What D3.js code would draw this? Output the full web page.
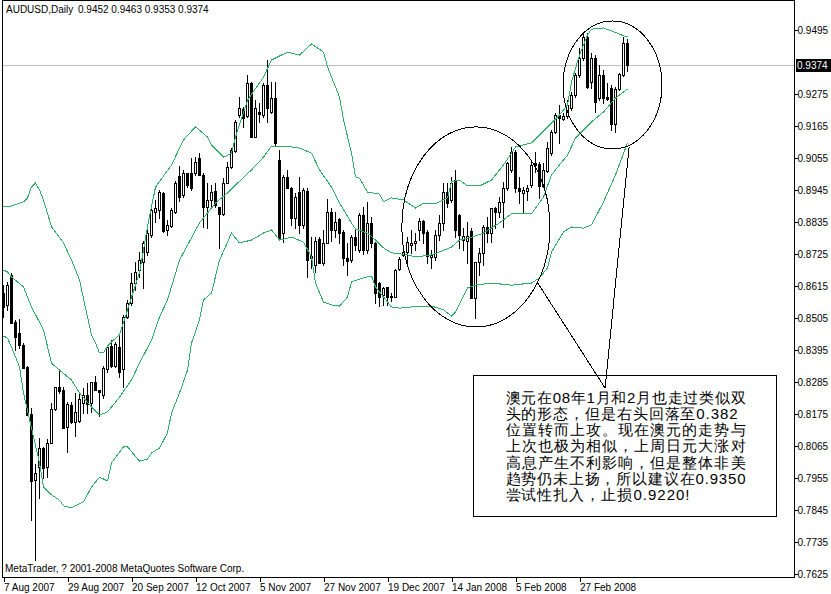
<!DOCTYPE html>
<html>
<head>
<meta charset="utf-8">
<script src="https://cdn.jsdelivr.net/npm/d3@7"></script>
<style>
html,body{margin:0;padding:0;background:#fff;}
svg{display:block;}
text{font-family:"Liberation Sans",Arial,sans-serif;}
</style>
</head>
<body>
<svg id="chart" width="831" height="594"></svg>
<script>
// ---------------- DATA ----------------
const symbolTitle = "AUDUSD,Daily";
const lastOHLC = [0.9452, 0.9463, 0.9353, 0.9374];
const bidPrice = 0.9374;
const dateTickIdx = [0,16,32,48,64,80,96,112,128,144];
const dateTickLabels = ["7 Aug 2007","29 Aug 2007","20 Sep 2007","12 Oct 2007","5 Nov 2007","27 Nov 2007","19 Dec 2007","14 Jan 2008","5 Feb 2008","27 Feb 2008"];
const priceTicks = [0.9495,0.9275,0.9165,0.9055,0.8945,0.8835,0.8725,0.8615,0.8505,0.8395,0.8285,0.8175,0.8065,0.7955,0.7845,0.7735,0.7625];

const opens = [
0.8591,0.8550,0.8653,0.8491,0.8453,0.8412,0.8337,0.8175,0.7948,0.7993,
0.8058,0.7993,0.8075,0.8192,0.8268,0.8258,0.8130,0.8206,0.8148,0.8151,
0.8213,0.8240,0.8213,0.8285,0.8258,0.8240,0.8330,0.8409,0.8340,0.8405,
0.8330,0.8508,0.8557,0.8625,0.8670,0.8698,0.8732,0.8790,0.8869,0.8876,
0.8935,0.8808,0.8821,0.8869,0.8993,0.8928,0.9003,0.9003,0.9003,0.9055,
0.8997,0.8887,0.8911,0.8942,0.8887,0.8863,0.8969,0.9024,0.9079,0.9203,
0.9224,0.9199,0.9313,0.9127,0.9213,0.9203,0.9306,0.9213,0.9261,0.9048,
0.8797,0.8990,0.8952,0.8849,0.8938,0.8825,0.8942,0.8711,0.8687,0.8777,
0.8694,0.8763,0.8869,0.8808,0.8845,0.8801,0.8711,0.8704,0.8783,0.8739,
0.8859,0.8739,0.8832,0.8763,0.8625,0.8584,0.8612,0.8577,0.8577,0.8674,
0.8722,0.8732,0.8756,0.8763,0.8808,0.8838,0.8801,0.8715,0.8715,0.8790,
0.8832,0.8938,0.8911,0.8979,0.8859,0.8773,0.8770,0.8804,0.8574,0.8698,
0.8729,0.8818,0.8797,0.8883,0.8869,0.8904,0.8952,0.9014,0.9076,0.8952,
0.8935,0.8942,0.8962,0.9038,0.9034,0.8959,0.9010,0.9072,0.9144,0.9203,
0.9189,0.9199,0.9227,0.9272,0.9340,0.9399,0.9471,0.9316,0.9399,0.9261,
0.9340,0.9265,0.9296,0.9172,0.9292,0.9340,0.9452];
const highs = [
0.8618,0.8629,0.8660,0.8498,0.8502,0.8419,0.8340,0.8196,0.8003,0.8093,
0.8062,0.8089,0.8213,0.8268,0.8326,0.8268,0.8216,0.8216,0.8247,0.8247,
0.8264,0.8282,0.8285,0.8306,0.8258,0.8340,0.8412,0.8429,0.8423,0.8450,
0.8515,0.8567,0.8660,0.8698,0.8732,0.8770,0.8808,0.8887,0.8911,0.8945,
0.8938,0.8842,0.8883,0.8976,0.9028,0.9014,0.9003,0.9055,0.9058,0.9072,
0.9003,0.8969,0.8962,0.8969,0.8887,0.8986,0.9041,0.9089,0.9186,0.9265,
0.9230,0.9340,0.9316,0.9254,0.9244,0.9313,0.9392,0.9316,0.9316,0.9083,
0.8997,0.9014,0.8955,0.8935,0.8990,0.8952,0.8952,0.8783,0.8783,0.8783,
0.8808,0.8914,0.8883,0.8869,0.8849,0.8808,0.8763,0.8790,0.8808,0.8866,
0.8887,0.8904,0.8852,0.8766,0.8629,0.8612,0.8612,0.8591,0.8674,0.8715,
0.8746,0.8783,0.8808,0.8797,0.8849,0.8842,0.8808,0.8739,0.8808,0.8859,
0.8969,0.8969,0.8990,0.9014,0.8863,0.8814,0.8835,0.8814,0.8698,0.8746,
0.8825,0.8852,0.8883,0.8887,0.8921,0.8973,0.9041,0.9093,0.9083,0.8990,
0.8955,0.8962,0.9048,0.9076,0.9041,0.9038,0.9110,0.9151,0.9210,0.9237,
0.9210,0.9254,0.9282,0.9347,0.9433,0.9488,0.9485,0.9416,0.9409,0.9375,
0.9358,0.9313,0.9306,0.9299,0.9347,0.9471,0.9463];
const lows = [
0.8508,0.8533,0.8488,0.8395,0.8402,0.8333,0.8172,0.7811,0.7673,0.7886,
0.7955,0.7958,0.8075,0.8189,0.8247,0.8127,0.8044,0.8144,0.8099,0.8148,
0.8178,0.8178,0.8182,0.8258,0.8168,0.8230,0.8319,0.8337,0.8337,0.8302,
0.8268,0.8505,0.8550,0.8601,0.8646,0.8608,0.8722,0.8783,0.8835,0.8849,
0.8801,0.8790,0.8818,0.8866,0.8907,0.8921,0.8955,0.8945,0.8997,0.8997,
0.8818,0.8814,0.8883,0.8887,0.8746,0.8859,0.8969,0.9021,0.9076,0.9196,
0.9162,0.9196,0.9127,0.9127,0.9179,0.9196,0.9179,0.9210,0.9100,0.8773,
0.8766,0.8952,0.8825,0.8814,0.8797,0.8814,0.8646,0.8677,0.8663,0.8694,
0.8687,0.8763,0.8770,0.8783,0.8763,0.8687,0.8653,0.8698,0.8739,0.8732,
0.8725,0.8729,0.8749,0.8557,0.8546,0.8550,0.8550,0.8563,0.8577,0.8670,
0.8718,0.8694,0.8729,0.8739,0.8773,0.8763,0.8694,0.8677,0.8704,0.8773,
0.8808,0.8887,0.8904,0.8783,0.8746,0.8739,0.8694,0.8574,0.8505,0.8653,
0.8687,0.8766,0.8766,0.8814,0.8852,0.8818,0.8945,0.9007,0.8938,0.8900,
0.8869,0.8911,0.8955,0.9007,0.8918,0.8955,0.9007,0.9065,0.9141,0.9107,
0.9186,0.9193,0.9220,0.9265,0.9333,0.9392,0.9296,0.9296,0.9213,0.9254,
0.9244,0.9254,0.9151,0.9144,0.9289,0.9337,0.9353];
const closes = [
0.8543,0.8618,0.8488,0.8440,0.8412,0.8333,0.8172,0.7945,0.7972,0.8058,
0.7989,0.8075,0.8192,0.8268,0.8254,0.8127,0.8209,0.8148,0.8182,0.8227,
0.8240,0.8209,0.8285,0.8258,0.8251,0.8333,0.8405,0.8340,0.8416,0.8319,
0.8508,0.8557,0.8625,0.8663,0.8704,0.8763,0.8797,0.8876,0.8883,0.8938,
0.8804,0.8825,0.8876,0.8969,0.8921,0.9003,0.8962,0.8952,0.9041,0.8997,
0.8887,0.8911,0.8938,0.8893,0.8863,0.8969,0.9024,0.9083,0.9179,0.9227,
0.9193,0.9313,0.9127,0.9227,0.9206,0.9306,0.9227,0.9261,0.9107,0.8780,
0.8990,0.8952,0.8849,0.8921,0.8825,0.8945,0.8704,0.8718,0.8770,0.8694,
0.8763,0.8869,0.8808,0.8835,0.8797,0.8711,0.8701,0.8783,0.8756,0.8859,
0.8739,0.8832,0.8763,0.8591,0.8577,0.8608,0.8577,0.8581,0.8670,0.8708,
0.8732,0.8766,0.8763,0.8770,0.8838,0.8797,0.8718,0.8722,0.8790,0.8832,
0.8938,0.8900,0.8969,0.8808,0.8790,0.8787,0.8787,0.8574,0.8698,0.8729,
0.8818,0.8797,0.8883,0.8869,0.8904,0.8952,0.9038,0.9076,0.8952,0.8942,
0.8945,0.8952,0.9031,0.9031,0.8959,0.9014,0.9089,0.9144,0.9203,0.9193,
0.9199,0.9237,0.9272,0.9340,0.9399,0.9471,0.9299,0.9399,0.9248,0.9340,
0.9261,0.9258,0.9172,0.9292,0.9344,0.9450,0.9374];

// Bollinger bands: [bar index, price]
const bbUpper = [[0,.8887],[2,.8890],[4,.8900],[5,.8904],[6,.8918],[7,.8955],[8,.8969],[9,.8945],[10,.8911],[12,.8818],[15,.8763],[17,.8704],[19,.8636],[21,.8508],[22,.8447],[23,.8419],[24,.8385],[25,.8385],[26,.8409],[27,.8423],[29,.8447],[30,.8488],[31,.8533],[32,.8577],[34,.8660],[36,.8818],[38,.8955],[42,.9031],[45,.9117],[48,.9162],[51,.9127],[52,.9100],[55,.9058],[57,.9072],[58,.9127],[61,.9254],[65,.9333],[67,.9392],[71,.9419],[74,.9409],[77,.9447],[80,.9419],[81,.9368],[82,.9333],[84,.9265],[85,.9186],[87,.9072],[88,.8990],[89,.8986],[91,.8938],[94,.8931],[95,.8904],[97,.8918],[100,.8911],[103,.8883],[105,.8900],[108,.8897],[111,.8918],[112,.8973],[114,.8979],[116,.8959],[119,.8959],[122,.8979],[125,.9031],[128,.9093],[132,.9107],[134,.9134],[137,.9175],[139,.9203],[141,.9237],[142,.9316],[144,.9409],[146,.9478],[147,.9498],[150,.9502],[152,.9492],[155,.9475],[156,.9471]];
const bbMiddle = [[0,.8670],[1,.8663],[2,.8646],[5,.8612],[7,.8543],[10,.8464],[12,.8350],[14,.8326],[17,.8292],[19,.8247],[22,.8199],[24,.8172],[26,.8182],[29,.8233],[32,.8292],[34,.8350],[37,.8429],[39,.8508],[41,.8567],[44,.8704],[49,.8832],[53,.8900],[56,.8935],[58,.8962],[62,.9014],[65,.9058],[67,.9096],[70,.9093],[72,.9093],[74,.9089],[77,.9072],[79,.9014],[82,.8955],[84,.8900],[87,.8832],[88,.8811],[91,.8797],[93,.8773],[95,.8746],[97,.8729],[101,.8722],[103,.8715],[107,.8722],[109,.8732],[112,.8749],[114,.8773],[117,.8783],[120,.8797],[124,.8832],[127,.8863],[132,.8863],[135,.8921],[137,.8997],[141,.9065],[143,.9124],[147,.9179],[150,.9213],[153,.9261],[156,.9292]];
const bbLower = [[0,.8443],[1,.8436],[2,.8405],[4,.8337],[5,.8247],[7,.8127],[9,.8007],[10,.7924],[12,.7897],[14,.7879],[15,.7859],[17,.7852],[20,.7873],[22,.7924],[24,.7958],[26,.7945],[27,.8007],[30,.8062],[31,.8062],[34,.8013],[36,.8020],[37,.8041],[39,.8058],[41,.8110],[42,.8178],[44,.8247],[46,.8326],[47,.8419],[49,.8498],[50,.8567],[52,.8591],[54,.8704],[57,.8797],[59,.8763],[62,.8773],[65,.8797],[67,.8808],[69,.8773],[72,.8783],[75,.8766],[77,.8715],[78,.8625],[80,.8560],[82,.8550],[84,.8546],[86,.8577],[87,.8629],[90,.8643],[92,.8649],[93,.8612],[95,.8577],[97,.8543],[99,.8539],[102,.8543],[107,.8546],[110,.8533],[112,.8512],[113,.8526],[116,.8608],[118,.8618],[122,.8625],[127,.8618],[132,.8625],[134,.8643],[136,.8677],[137,.8732],[140,.8801],[142,.8818],[145,.8814],[147,.8825],[150,.8904],[153,.8997],[156,.9107]];

// hand-drawn annotation, placed in data space [bar index, price]
const ellipse1 = {i0: 99.6, i1: 136.6, p0: 0.9162, p1: 0.8474};
const ellipse2 = {i0: 139.9, i1: 164.6, p0: 0.9526, p1: 0.9086};
const pointerTip = [150.4, 0.8264];
const pointerEnds = [[133.4, 0.8629], [156.4, 0.9093]];
const noteBox = {i0: 117.4, i1: 193.1, p0: 0.8309, p1: 0.7824};
const noteLines = [
  "澳元在08年1月和2月也走过类似双",
  "头的形态，但是右头回落至0.382",
  "位置转而上攻。现在澳元的走势与",
  "上次也极为相似，上周日元大涨对",
  "高息产生不利影响，但是整体非美",
  "趋势仍未上扬，所以建议在0.9350",
  "尝试性扎入，止损0.9220!"
];
const noteUnits = [30,29,30,30,30,30,23];
const copyrightText = "MetaTrader, ? 2001-2008 MetaQuotes Software Corp.";

// ---------------- DRAW ----------------
const svg = d3.select("#chart");
const plotL = 2, plotR = 794, plotT = 0, plotB = 577;

const x = d3.scaleLinear().domain([0, 156]).range([3.5, 627.5]);
const y = d3.scaleLinear().domain([0.7625, 0.9495]).range([574, 30]);

svg.append("rect").attr("width", 831).attr("height", 594).attr("fill", "#fff");

const plot = svg.append("g");

// bid line
const by = Math.round(y(bidPrice)) + 0.5;
plot.append("line").attr("x1", plotL + 1).attr("x2", plotR).attr("y1", by).attr("y2", by)
  .attr("stroke", "#c0c0c0").attr("stroke-width", 1).attr("shape-rendering", "crispEdges");

// candles
const idx = d3.range(opens.length);
const cg = plot.append("g").attr("shape-rendering", "crispEdges");
cg.selectAll("line.wick").data(idx).join("line")
  .attr("class", "wick")
  .attr("x1", i => x(i)).attr("x2", i => x(i))
  .attr("y1", i => Math.round(y(highs[i])))
  .attr("y2", i => Math.round(y(lows[i])) + 1)
  .attr("stroke", "#000").attr("stroke-width", 1);
cg.selectAll("rect.body").data(idx).join("rect")
  .attr("class", "body")
  .attr("x", i => x(i) - 1)
  .attr("width", 2)
  .attr("y", i => Math.round(y(Math.max(opens[i], closes[i]))) + 0.5)
  .attr("height", i => Math.max(0, Math.round(y(Math.min(opens[i], closes[i]))) - Math.round(y(Math.max(opens[i], closes[i])))))
  .attr("fill", i => closes[i] < opens[i] ? "#000" : "#fff")
  .attr("stroke", "#000").attr("stroke-width", 1);

// bands
const bandLine = d3.line().x(d => x(d[0])).y(d => y(d[1]));
[bbUpper, bbMiddle, bbLower].forEach(b => {
  plot.append("path").attr("d", bandLine(b)).attr("fill", "none")
    .attr("stroke", "#2fae66").attr("stroke-width", 1)
    .attr("shape-rendering", "crispEdges");
});

// frame
svg.append("path")
  .attr("d", `M${plotL + 0.5},${plotB + 0.5}V${plotT + 0.5}H${plotR + 0.5}V${plotB + 0.5}H${plotL + 0.5}`)
  .attr("fill", "none").attr("stroke", "#000").attr("stroke-width", 1)
  .attr("shape-rendering", "crispEdges");

// right price axis
const yAxis = d3.axisRight(y).tickValues(priceTicks).tickSize(3).tickSizeOuter(0)
  .tickPadding(0).tickFormat(d3.format(".4f"));
const ya = svg.append("g").attr("transform", `translate(${plotR + 0.5},0)`).call(yAxis);
ya.select(".domain").remove();
ya.selectAll("text").attr("font-size", 10).attr("font-family", "Liberation Sans, Arial, sans-serif").attr("fill", "#000");
ya.selectAll("line").attr("stroke", "#000").attr("shape-rendering", "crispEdges");

// bid label
svg.append("rect").attr("x", plotR + 2).attr("y", by - 6.5).attr("width", 35).attr("height", 13).attr("fill", "#000");
svg.append("text").attr("x", plotR + 3).attr("y", by + 3.5).attr("fill", "#fff")
  .attr("font-size", 10).text(d3.format(".4f")(bidPrice));

// bottom date axis
const xAxis = d3.axisBottom(x).tickValues(dateTickIdx).tickSize(4).tickSizeOuter(0)
  .tickPadding(2).tickFormat((d, i) => dateTickLabels[i]);
const xa = svg.append("g").attr("transform", `translate(0,${plotB + 0.5})`).call(xAxis);
xa.select(".domain").remove();
xa.selectAll("text").attr("text-anchor", "start").attr("dx", 0).attr("font-size", 10)
  .attr("font-family", "Liberation Sans, Arial, sans-serif").attr("fill", "#000");
xa.selectAll("line").attr("stroke", "#000").attr("shape-rendering", "crispEdges");

// header and copyright
svg.append("text").attr("x", 6).attr("y", 13).attr("font-size", 10).text(symbolTitle);
svg.append("text").attr("x", 78).attr("y", 13).attr("font-size", 10)
  .text(lastOHLC.map(d3.format(".4f")).join(" "));
svg.append("text").attr("x", 5).attr("y", 572).attr("font-size", 10).text(copyrightText);

// annotation
const ann = svg.append("g").attr("fill", "none").attr("stroke", "#000").attr("stroke-width", 1)
  .attr("shape-rendering", "crispEdges");
[ellipse1, ellipse2].forEach(e => {
  ann.append("ellipse")
    .attr("cx", (x(e.i0) + x(e.i1)) / 2).attr("cy", (y(e.p0) + y(e.p1)) / 2)
    .attr("rx", (x(e.i1) - x(e.i0)) / 2).attr("ry", (y(e.p1) - y(e.p0)) / 2);
});
pointerEnds.forEach(p => {
  ann.append("line").attr("x1", x(p[0])).attr("y1", y(p[1]))
    .attr("x2", x(pointerTip[0])).attr("y2", y(pointerTip[1]));
});
const bx0 = Math.round(x(noteBox.i0)) + 0.5, bx1 = Math.round(x(noteBox.i1)) + 0.5;
const by0 = Math.round(y(noteBox.p0)) + 0.5, by1 = Math.round(y(noteBox.p1)) + 0.5;
ann.append("rect").attr("x", bx0).attr("y", by0).attr("width", bx1 - bx0).attr("height", by1 - by0)
  .attr("fill", "none");

const tg = svg.append("g");
noteLines.forEach((t, k) => {
  tg.append("text")
    .attr("x", bx0 + 32).attr("y", by0 + 27 + k * 16.3)
    .attr("font-family", "'Noto Sans CJK SC', sans-serif")
    .attr("font-size", 15)
    .attr("textLength", noteUnits[k] * 8).attr("lengthAdjust", "spacing")
    .attr("fill", "#000")
    .text(t);
});
</script>
</body>
</html>
